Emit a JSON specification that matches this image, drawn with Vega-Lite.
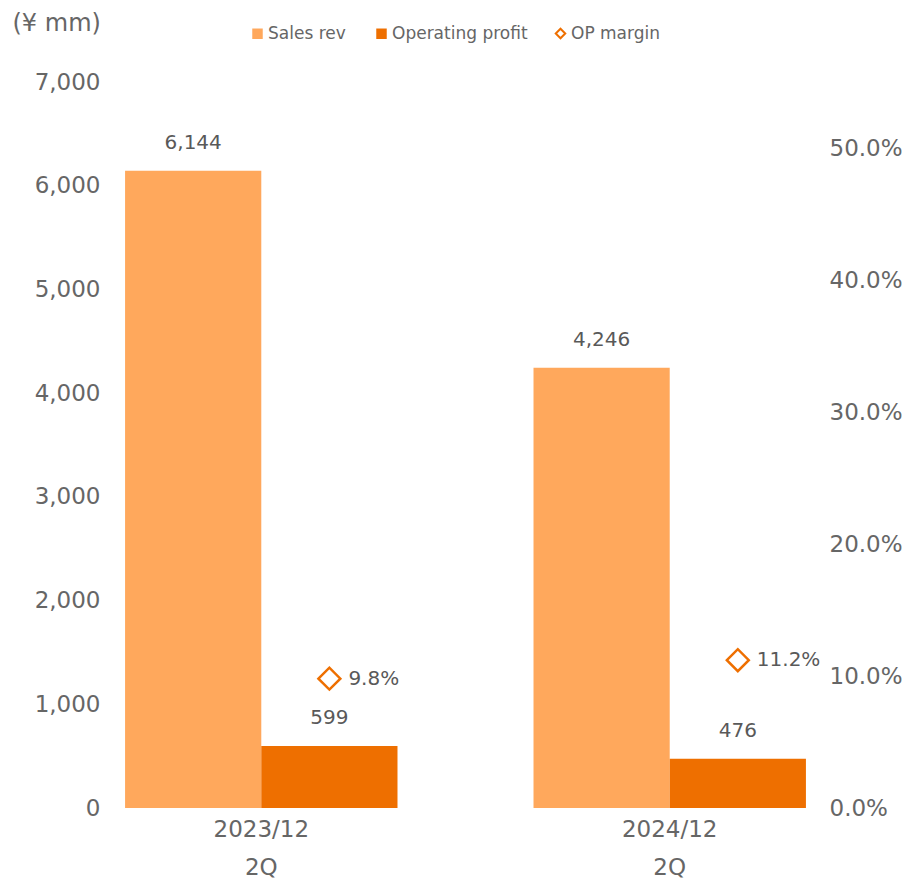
{
  "$schema": "https://vega.github.io/schema/vega-lite/v6.json",
  "width": 707,
  "height": 726,
  "autosize": {"type": "none"},
  "padding": {"left": 112, "top": 82, "right": 91, "bottom": 71},
  "background": "white",
  "config": {
    "font": "DejaVu Sans",
    "view": {"stroke": null},
    "axis": {"grid": false, "domain": false, "ticks": false}
  },
  "data": {
    "values": [
      {"period": "2023/12 2Q", "series": "Sales rev", "value": 6144},
      {"period": "2023/12 2Q", "series": "Operating profit", "value": 599, "margin": 0.098},
      {"period": "2024/12 2Q", "series": "Sales rev", "value": 4246},
      {"period": "2024/12 2Q", "series": "Operating profit", "value": 476, "margin": 0.112}
    ]
  },
  "encoding": {
    "x": {
      "field": "period",
      "type": "nominal",
      "sort": null,
      "scale": {"paddingInner": 0.333, "paddingOuter": 0.032},
      "axis": {
        "title": null,
        "labelAngle": 0,
        "labelExpr": "split(datum.label, ' ')",
        "labelFontSize": 23,
        "labelColor": "#666666",
        "labelPadding": 10,
        "labelLineHeight": 38,
        "labelBaseline": "top"
      }
    },
    "xOffset": {
      "field": "series",
      "type": "nominal",
      "sort": ["Sales rev", "Operating profit"],
      "scale": {"paddingInner": 0, "paddingOuter": 0}
    }
  },
  "layer": [
    {
      "encoding": {
        "y": {
          "field": "value",
          "type": "quantitative",
          "scale": {"domain": [0, 7000], "nice": false},
          "axis": {
            "values": [0, 1000, 2000, 3000, 4000, 5000, 6000, 7000],
            "format": ",.0f",
            "labelFontSize": 23,
            "labelColor": "#666666",
            "labelPadding": 12,
            "title": "(¥ mm)",
            "titleAngle": 0,
            "titleAlign": "left",
            "titleBaseline": "middle",
            "titleX": -100,
            "titleY": -59,
            "titleFontSize": 24,
            "titleFontWeight": "normal",
            "titleColor": "#666666"
          }
        }
      },
      "layer": [
        {
          "mark": {"type": "bar"},
          "encoding": {
            "color": {
              "field": "series",
              "type": "nominal",
              "scale": {"domain": ["Sales rev", "Operating profit"], "range": ["#FFA85C", "#EE6F00"]},
              "legend": {
                "orient": "none",
                "legendX": 137,
                "legendY": -57,
                "direction": "horizontal",
                "title": null,
                "symbolType": "square",
                "symbolSize": 110,
                "labelFontSize": 17,
                "labelColor": "#666666",
                "columnPadding": 27,
                "labelOffset": 2
              }
            }
          }
        },
        {
          "mark": {"type": "text", "dy": -28, "fontSize": 20, "color": "#595959"},
          "encoding": {"text": {"field": "value", "type": "quantitative", "format": ",.0f"}}
        }
      ]
    },
    {
      "transform": [{"filter": "isValid(datum.margin)"}],
      "encoding": {
        "y": {
          "field": "margin",
          "type": "quantitative",
          "scale": {"domain": [0, 0.55], "nice": false},
          "axis": {
            "orient": "right",
            "values": [0, 0.1, 0.2, 0.3, 0.4, 0.5],
            "format": ".1%",
            "labelFontSize": 23,
            "labelColor": "#666666",
            "labelPadding": 10,
            "title": null
          }
        }
      },
      "layer": [
        {
          "mark": {"type": "point", "filled": false, "stroke": "#EE6F00", "strokeWidth": 2.5, "size": 480, "opacity": 1},
          "encoding": {
            "shape": {
              "datum": "OP margin",
              "scale": {"range": ["diamond"]},
              "legend": {
                "orient": "none",
                "legendX": 440,
                "legendY": -57,
                "title": null,
                "symbolType": "diamond",
                "symbolSize": 90,
                "symbolStrokeColor": "#EE6F00",
                "symbolStrokeWidth": 2,
                "symbolFillColor": "white",
                "labelFontSize": 17,
                "labelColor": "#666666",
                "labelOffset": 2
              }
            }
          }
        },
        {
          "mark": {"type": "text", "align": "left", "dx": 19, "fontSize": 20, "color": "#595959"},
          "encoding": {"text": {"field": "margin", "type": "quantitative", "format": ".1%"}}
        }
      ]
    }
  ],
  "resolve": {"scale": {"y": "independent"}}
}
